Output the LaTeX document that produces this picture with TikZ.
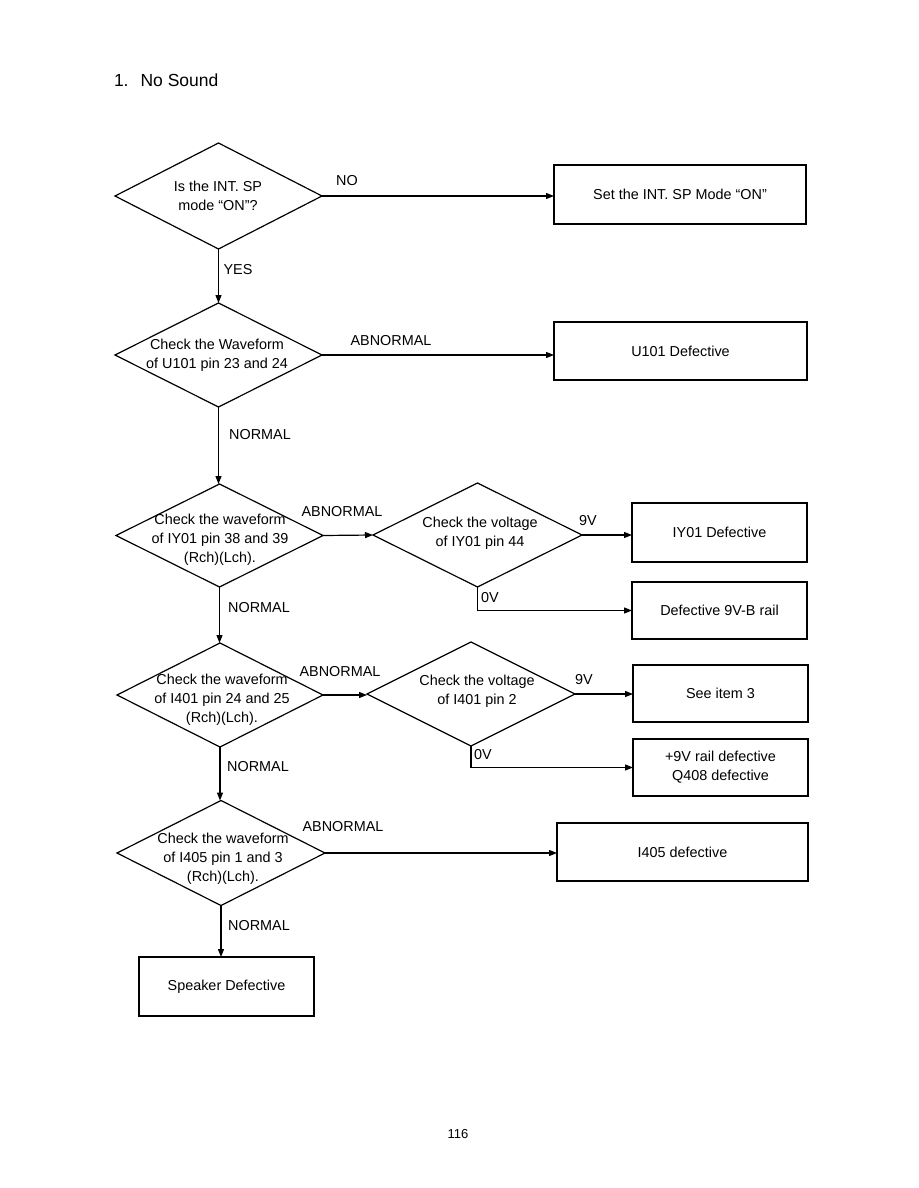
\documentclass[tikz,border=0pt]{standalone}
\usepackage{fontspec}
\setmainfont{Liberation Sans}
\usetikzlibrary{shapes.geometric,arrows.meta}
\begin{document}
\begin{tikzpicture}[x=1pt,y=-1pt,
  every node/.style={font=\fontsize{14.4}{18.8}\selectfont, inner sep=0pt, outer sep=0pt},
  dia/.style={draw, diamond, line width=1.2pt, minimum width=207pt, minimum height=104pt},
  box/.style={draw, rectangle, line width=1.2pt, minimum width=175pt, minimum height=58pt, align=center},
  dtext/.style={align=center},
  lbl/.style={},
  arr/.style={line width=1.2pt, -{Triangle[length=8pt,width=6pt]}}
]
\useasboundingbox (0,0) rectangle (918,1188);

% title and page number
\node[font=\fontsize{17.5}{20}\selectfont, anchor=west] (title) at (114,80) {1.\hspace{12pt}No Sound};
\node[font=\fontsize{13}{15}\selectfont] (page) at (458,1134) {116};

% diamonds
\node[dia, minimum height=106pt] (d1) at (218.5,196) {};
\node[dtext] (d1t) at (218,196) {Is the INT. SP\\mode “ON”?};
\node[dia] (d2) at (218.5,355) {};
\node[dtext] (d2t) at (217,355) {Check the Waveform\\of U101 pin 23 and 24};
\node[dia, minimum height=103pt] (d3) at (219.5,535.5) {};
\node[dtext] (d3t) at (220,540) {Check the waveform\\of IY01 pin 38 and 39\\(Rch)(Lch).};
\node[dia, minimum width=209pt] (d4) at (477.5,535) {};
\node[dtext] (d4t) at (480,533) {Check the voltage\\of IY01 pin 44};
\node[dia, minimum width=206pt] (d5) at (220,695) {};
\node[dtext] (d5t) at (222,700) {Check the waveform\\of I401 pin 24 and 25\\(Rch)(Lch).};
\node[dia, minimum width=208pt] (d6) at (471,694) {};
\node[dtext] (d6t) at (477,691.5) {Check the voltage\\of I401 pin 2};
\node[dia, minimum width=208pt, minimum height=105pt] (d7) at (221,853) {};
\node[dtext] (d7t) at (223,859) {Check the waveform\\of I405 pin 1 and 3\\(Rch)(Lch).};

% boxes
\node[box, minimum width=252pt, minimum height=59pt] (b1) at (680,194.5) {Set the INT. SP Mode “ON”};
\node[box, minimum width=253pt] (b2) at (680.5,351) {U101 Defective};
\node[box, minimum height=59pt] (b3) at (719.5,532.5) {IY01 Defective};
\node[box, minimum height=57pt] (b4) at (719.5,610.5) {Defective 9V-B rail};
\node[box, minimum height=57pt] (b5) at (720.5,693.5) {See item 3};
\node[box, minimum height=57pt] (b6) at (720.5,767.5) {+9V rail defective\\Q408 defective};
\node[box, minimum width=251pt] (b7) at (682.5,852) {I405 defective};
\node[box, minimum height=59pt] (b8) at (226.5,986.5) {Speaker Defective};

% connectors
\draw[arr] (d1.east) -- (d1.east -| b1.west);
\draw[arr] (d1.south) -- (d2.north);
\draw[arr] (d2.east) -- (d2.east -| b2.west);
\draw[arr] (d2.south) -- (d2.south |- d3.north);
\draw[arr] (d3.east) -- (d4.west);
\draw[arr] (d4.east) -- (d4.east -| b3.west);
\draw[arr] (d4.south) |- (b4.west);
\draw[arr] (d3.south) -- (d3.south |- d5.north);
\draw[arr] (d5.east) -- (d5.east -| d6.west);
\draw[arr] (d6.east) -- (d6.east -| b5.west);
\draw[arr] (d6.south) |- (b6.west);
\draw[arr] (d5.south) -- (d5.south |- d7.north);
\draw[arr] (d7.east) -- (d7.east -| b7.west);
\draw[arr] (d7.south) -- (d7.south |- b8.north);

% connector labels
\node[lbl] (l1) at (347,181) {NO};
\node[lbl] (l2) at (238,270) {YES};
\node[lbl] (l3) at (391,341) {ABNORMAL};
\node[lbl] (l4) at (260,435) {NORMAL};
\node[lbl] (l5) at (342,512) {ABNORMAL};
\node[lbl] (l6) at (588,521) {9V};
\node[lbl] (l7) at (490,598) {0V};
\node[lbl] (l8) at (259,608) {NORMAL};
\node[lbl] (l9) at (340,672) {ABNORMAL};
\node[lbl] (l10) at (584,680) {9V};
\node[lbl] (l11) at (483,755) {0V};
\node[lbl] (l12) at (258,767) {NORMAL};
\node[lbl] (l13) at (343,827) {ABNORMAL};
\node[lbl] (l14) at (259,926) {NORMAL};
\end{tikzpicture}
\end{document}
